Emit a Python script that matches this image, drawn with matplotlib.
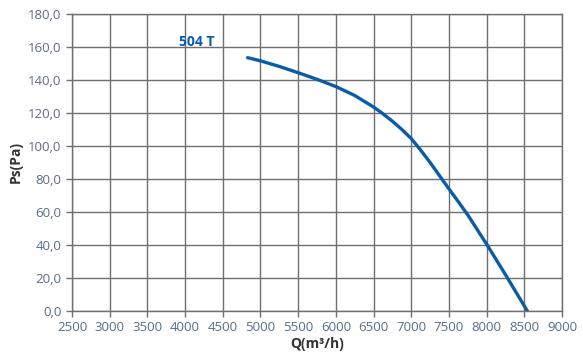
import matplotlib
matplotlib.use("Agg")
import matplotlib.pyplot as plt

flow = [4830, 5000, 5250, 5500, 5750, 6000, 6250, 6500, 6625, 6750, 6875, 7000,
        7125, 7250, 7375, 7500, 7625, 7750, 8000, 8250, 8540]
pressure = [153.5, 151.6, 148.2, 144.4, 140.4, 136, 130.6, 123.6, 119.5, 115, 110, 104.5,
            97.5, 90, 82, 74, 66.2, 58.2, 40.5, 22, 0]
x_ticks = list(range(2500, 9001, 500))
y_ticks = list(range(0, 181, 20))
series_label = "504 T"

plt.rcParams['font.family'] = ['Open Sans', 'DejaVu Sans']

fig = plt.figure(figsize=(5.83, 3.58), dpi=100)
ax = fig.add_axes([0.1235, 0.1313, 0.8405, 0.8297])

ax.set_xlim(2500, 9000)
ax.set_ylim(0, 180)
ax.set_xticks(x_ticks)
ax.set_yticks(y_ticks)
ax.set_yticklabels([f"{v:.1f}".replace('.', ',') for v in y_ticks])
ax.set_xticklabels([str(v) for v in x_ticks])
ax.grid(True, color='#6f6f6f', linewidth=1.0)
ax.set_axisbelow(True)
for s in ax.spines.values():
    s.set_color('#6f6f6f')
    s.set_linewidth(1.0)
ax.tick_params(axis='both', colors='#6f6f6f', labelcolor='#5a6e86', labelsize=9.5, length=4, width=1)

ax.plot(flow, pressure, color='#0a5ca8', linewidth=2.4, solid_capstyle='round', solid_joinstyle='round')
ax.text(4150, 163, series_label, color='#0a5ca8', fontsize=10, fontweight='bold', ha='center', va='center')

ax.set_ylabel('Ps(Pa)', fontsize=10, fontweight='bold', color='#333333', labelpad=4)
ax.set_xlabel('Q(m\u00b3/h)', fontsize=10, fontweight='bold', color='#333333', labelpad=2)

fig.savefig('out.png', dpi=100)
